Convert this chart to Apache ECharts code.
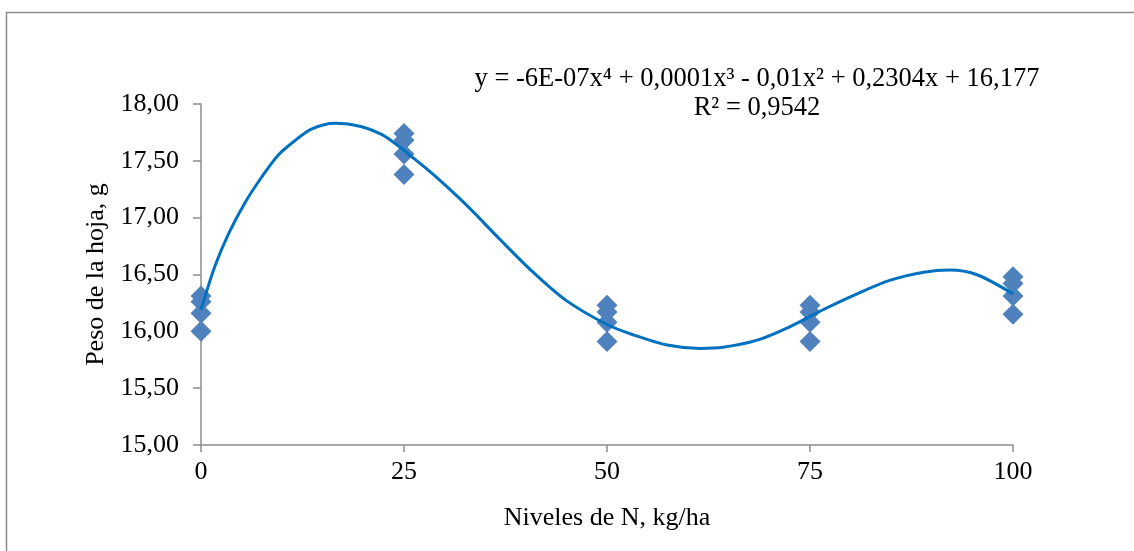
<!DOCTYPE html>
<html>
<head>
<meta charset="utf-8">
<script src="https://cdn.jsdelivr.net/npm/echarts@6/dist/echarts.min.js"></script>
<style>
html,body{margin:0;padding:0;background:#fff;}
#chart{width:1134px;height:551px;}
</style>
</head>
<body>
<div id="chart"></div>
<script>
// Observed data: N levels (kg/ha) and leaf weight (g), 4 replicates each
const nLevels = [0, 25, 50, 75, 100];
const rep1 = [16.31, 17.74, 16.23, 16.23, 16.48];
const rep2 = [16.26, 17.68, 16.17, 16.17, 16.42];
const rep3 = [16.16, 17.56, 16.08, 16.08, 16.31];
const rep4 = [16.00, 17.38, 15.91, 15.91, 16.15];

// Trend line
const trendX = [0, 1.7, 3.4, 5.4, 7.5, 9.5, 11.6, 13.6, 16.5, 19.8, 22.3, 24.5, 26.4, 28.6, 32.7, 36.8, 40.9, 45, 50, 53.2, 57.4, 61.5, 64.3, 68.4, 72.5, 76.6, 80.8, 84.9, 89, 92.2, 95.5, 100];
const trendY = [16.19, 16.57, 16.86, 17.13, 17.36, 17.55, 17.68, 17.78, 17.83, 17.80, 17.73, 17.62, 17.51, 17.38, 17.11, 16.81, 16.52, 16.27, 16.06, 15.97, 15.88, 15.85, 15.86, 15.92, 16.04, 16.19, 16.33, 16.45, 16.52, 16.54, 16.50, 16.33];

const xTicks = [0, 25, 50, 75, 100];
const yTicks = [15, 15.5, 16, 16.5, 17, 17.5, 18];

const equationText = 'y = -6E-07x\u2074 + 0,0001x\u00B3 - 0,01x\u00B2 + 0,2304x + 16,177';
const r2Text = 'R\u00B2 = 0,9542';

const scatterData = [];
[rep1, rep2, rep3, rep4].forEach(r => r.forEach((v, i) => scatterData.push([nLevels[i], v])));
const trendData = trendX.map((x, i) => [x, trendY[i]]);

const font = '"Liberation Serif", "Times New Roman", serif';
const axisColor = '#8c8c8c';

const chart = echarts.init(document.getElementById('chart'));
chart.setOption({
  backgroundColor: '#fff',
  animation: false,
  grid: {left: 201, top: 104, width: 812, height: 341, containLabel: false},
  xAxis: {
    type: 'value', min: 0, max: 100, interval: 25,
    name: 'Niveles de N, kg/ha', nameLocation: 'middle', nameGap: 60,
    nameTextStyle: {fontFamily: font, fontSize: 26, color: '#000'},
    axisLine: {lineStyle: {color: axisColor, width: 1.5}},
    axisTick: {show: true, length: 7, inside: false, lineStyle: {color: axisColor, width: 1.5}},
    axisLabel: {fontFamily: font, fontSize: 26, color: '#000', margin: 14,
      formatter: v => xTicks.includes(v) ? String(v) : ''},
    splitLine: {show: false}
  },
  yAxis: {
    type: 'value', min: 15, max: 18, interval: 0.5,
    name: 'Peso de la hoja, g', nameLocation: 'middle', nameGap: 91, nameRotate: 90,
    nameTextStyle: {fontFamily: font, fontSize: 26, color: '#000'},
    axisLine: {show: true, lineStyle: {color: axisColor, width: 1.5}},
    axisTick: {show: true, length: 8, inside: false, lineStyle: {color: axisColor, width: 1.5}},
    axisLabel: {fontFamily: font, fontSize: 26, color: '#000', margin: 22,
      formatter: v => yTicks.includes(v) ? v.toFixed(2).replace('.', ',') : ''},
    splitLine: {show: false}
  },
  series: [
    {
      type: 'scatter', data: scatterData, symbol: 'diamond', symbolSize: [21, 21],
      itemStyle: {color: '#4F81BD', opacity: 1}, z: 2
    },
    {
      type: 'line', data: trendData, smooth: 0.3, showSymbol: false, symbol: 'none',
      lineStyle: {color: '#0070C0', width: 3}, z: 3
    }
  ],
  graphic: [
    {type: 'rect', left: 4, top: 10, shape: {width: 1300, height: 700},
      style: {fill: 'none', stroke: '#8c8c8c', lineWidth: 1.5}, silent: true},
    {type: 'text', x: 757, y: 79, style: {text: equationText, font: '26.5px ' + font, fill: '#000',
      textAlign: 'center', textVerticalAlign: 'middle'}},
    {type: 'text', x: 757, y: 108, style: {text: r2Text, font: '26.5px ' + font, fill: '#000',
      textAlign: 'center', textVerticalAlign: 'middle'}}
  ]
});
</script>
</body>
</html>
